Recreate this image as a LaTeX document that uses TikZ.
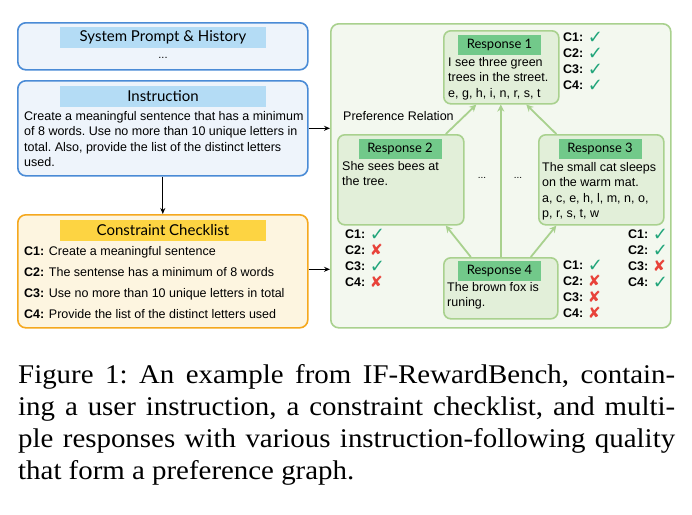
\documentclass[tikz,border=0pt]{standalone}
\usepackage{fontspec}
\setmainfont{Liberation Serif}
\newfontfamily\captionfont[FakeStretch=1.07]{Liberation Serif}
\newfontfamily\bodyfont{Liberation Sans}
\newfontfamily\headfont{Lato}
\newfontfamily\symfont{DejaVu Sans}
\usepackage{tikz}
\usetikzlibrary{arrows.meta}

\definecolor{boxblue}{RGB}{74,139,214}
\definecolor{boxbluebg}{RGB}{238,244,251}
\definecolor{bandblue}{RGB}{180,220,245}
\definecolor{boxorange}{RGB}{245,168,30}
\definecolor{boxorangebg}{RGB}{253,245,224}
\definecolor{bandorange}{RGB}{253,212,66}
\definecolor{boxgreen}{RGB}{169,209,142}
\definecolor{panelgreen}{RGB}{243,248,239}
\definecolor{respgreen}{RGB}{226,239,217}
\definecolor{bandgreen}{RGB}{114,201,138}
\definecolor{checkgreen}{RGB}{33,165,122}
\definecolor{crossred}{RGB}{232,67,58}

\newcommand{\passmark}{\smash{\raisebox{-1.5pt}{\symfont\fontsize{18}{18}\selectfont\textcolor{checkgreen}{✓}}}}
\newcommand{\failmark}{\smash{\raisebox{-1pt}{\symfont\fontsize{15.5}{15.5}\selectfont\textcolor{crossred}{✘}}}}

\begin{document}
\begin{tikzpicture}[x=1pt,y=-1pt]

	\tikzstyle{panel}=[rounded corners=8pt,line width=1.6pt,anchor=north west,inner sep=0pt]
	\tikzstyle{band}=[inner sep=0pt,minimum height=21pt,font=\headfont\fontsize{15}{15}\selectfont]
	\tikzstyle{resp}=[draw=boxgreen,fill=respgreen,rounded corners=7pt,line width=1.6pt,anchor=north west,inner sep=0pt]
	\tikzstyle{respband}=[fill=bandgreen,inner sep=0pt,minimum width=83pt,minimum height=20pt,font=\headfont\fontsize{13}{13}\selectfont]
	\tikzstyle{bodytext}=[anchor=north west,inner sep=0pt,align=left,font=\bodyfont\fontsize{12.5}{15.2}\selectfont\frenchspacing]
	\tikzstyle{marks}=[anchor=north west,inner sep=0pt,align=left,font=\bodyfont\bfseries\fontsize{12.5}{16}\selectfont]
	\tikzstyle{pref}=[-{Stealth[length=7pt,width=7pt]},draw=boxgreen,line width=1.8pt]

	\fill[white] (0,0) rectangle (692,514);
	\useasboundingbox (0,0) rectangle (692,514);

	% left column
	\node[panel,draw=boxblue,fill=boxbluebg,minimum width=290pt,minimum height=47pt] (sys) at (17,22) {};
	\node[band,fill=bandblue,minimum width=206pt] (systitle) at (163,37.5) {System Prompt \& History};
	\node[font=\bodyfont\fontsize{11}{11}\selectfont,inner sep=0pt] (sysdots) at (163,58) {...};

	\node[panel,draw=boxblue,fill=boxbluebg,minimum width=290pt,minimum height=95pt] (instr) at (17,80) {};
	\node[band,fill=bandblue,minimum width=206pt] (instrtitle) at (163,96) {Instruction};
	\node[bodytext] (instrtext) at (24,111.5) {Create a meaningful sentence that has a minimum\\of 8 words. Use no more than 10 unique letters in\\total. Also, provide the list of the distinct letters\\used.};

	\node[panel,draw=boxorange,fill=boxorangebg,minimum width=290pt,minimum height=113pt] (check) at (17,214) {};
	\node[band,fill=bandorange,minimum width=206pt] (checktitle) at (163,230.5) {Constraint Checklist};
	\node[bodytext,font=\bodyfont\fontsize{12.5}{21}\selectfont] (checktext) at (24,246.5) {\textbf{C1:} Create a meaningful sentence\\\textbf{C2:} The sentense has a minimum of 8 words\\\textbf{C3:} Use no more than 10 unique letters in total\\\textbf{C4:} Provide the list of the distinct letters used};

	\draw[-{Stealth[length=6pt,width=5pt]},line width=1.1pt] (instr) -- (check);

	% preference graph
	\node[panel,draw=boxgreen,fill=panelgreen,minimum width=340pt,minimum height=304pt] (graph) at (330,23) {};

	\draw[-{Stealth[length=6pt,width=5pt]},line width=1.1pt] (instr.east) -- (instr.east -| graph.west);
	\draw[-{Stealth[length=6pt,width=5pt]},line width=1.1pt] ([yshift=2pt]check.east) -- ([yshift=2pt]check.east -| graph.west);

	\node[resp,minimum width=115pt,minimum height=73pt] (r1) at (443,30) {};
	\node[respband] (r1title) at (499.5,45) {Response 1};
	\node[bodytext] (r1text) at (448,57.5) {I see three green\\trees in the street.\\e, g, h, i, n, r, s, t};

	\node[resp,minimum width=126pt,minimum height=90pt] (r2) at (337,134) {};
	\node[respband] (r2title) at (400,149) {Response 2};
	\node[bodytext] (r2text) at (342,161.5) {She sees bees at\\the tree.};

	\node[resp,minimum width=125pt,minimum height=90pt] (r3) at (538,134) {};
	\node[respband] (r3title) at (600,149) {Response 3};
	\node[bodytext] (r3text) at (542,162.5) {The small cat sleeps\\on the warm mat.\\a, c, e, h, l, m, n, o,\\p, r, s, t, w};

	\node[resp,minimum width=114pt,minimum height=61pt] (r4) at (443,257) {};
	\node[respband] (r4title) at (499.5,271) {Response 4};
	\node[bodytext] (r4text) at (447,282.5) {The brown fox is\\runing.};

	\node[bodytext] (prefrel) at (343,111) {Preference Relation};
	\node[font=\bodyfont\fontsize{10}{10}\selectfont,inner sep=0pt] (dotsa) at (482,178) {...};
	\node[font=\bodyfont\fontsize{10}{10}\selectfont,inner sep=0pt] (dotsb) at (518,178) {...};

	\draw[pref] ([xshift=45pt]r2.north) -- ([xshift=-25pt]r1.south);
	\draw[pref] ([xshift=-45pt]r3.north) -- ([xshift=25pt]r1.south);
	\draw[pref] (r4.north) -- (r4.north |- r1.south);
	\draw[pref] ([xshift=-30pt]r4.north) -- ([xshift=45pt]r2.south);
	\draw[pref] ([xshift=30pt]r4.north) -- ([xshift=-45pt]r3.south);

	% checks
	\node[marks] (r1marks) at (563,33) {C1: \passmark\\C2: \passmark\\C3: \passmark\\C4: \passmark};
	\node[marks] (r2marks) at (345,230) {C1: \passmark\\C2: \failmark\\C3: \passmark\\C4: \failmark};
	\node[marks] (r3marks) at (628,230) {C1: \passmark\\C2: \passmark\\C3: \failmark\\C4: \passmark};
	\node[marks] (r4marks) at (563,261) {C1: \passmark\\C2: \failmark\\C3: \failmark\\C4: \failmark};

	% caption
	\node[anchor=north west,inner sep=0pt,text width=657pt,align=justify,font=\captionfont\fontsize{27}{32.2}\selectfont\frenchspacing] (caption) at (18,364) {Figure 1: An example from IF-RewardBench, contain-\linebreak ing a user instruction, a constraint checklist, and multi-\linebreak ple responses with various instruction-following quality\linebreak that form a preference graph.};

\end{tikzpicture}
\end{document}
